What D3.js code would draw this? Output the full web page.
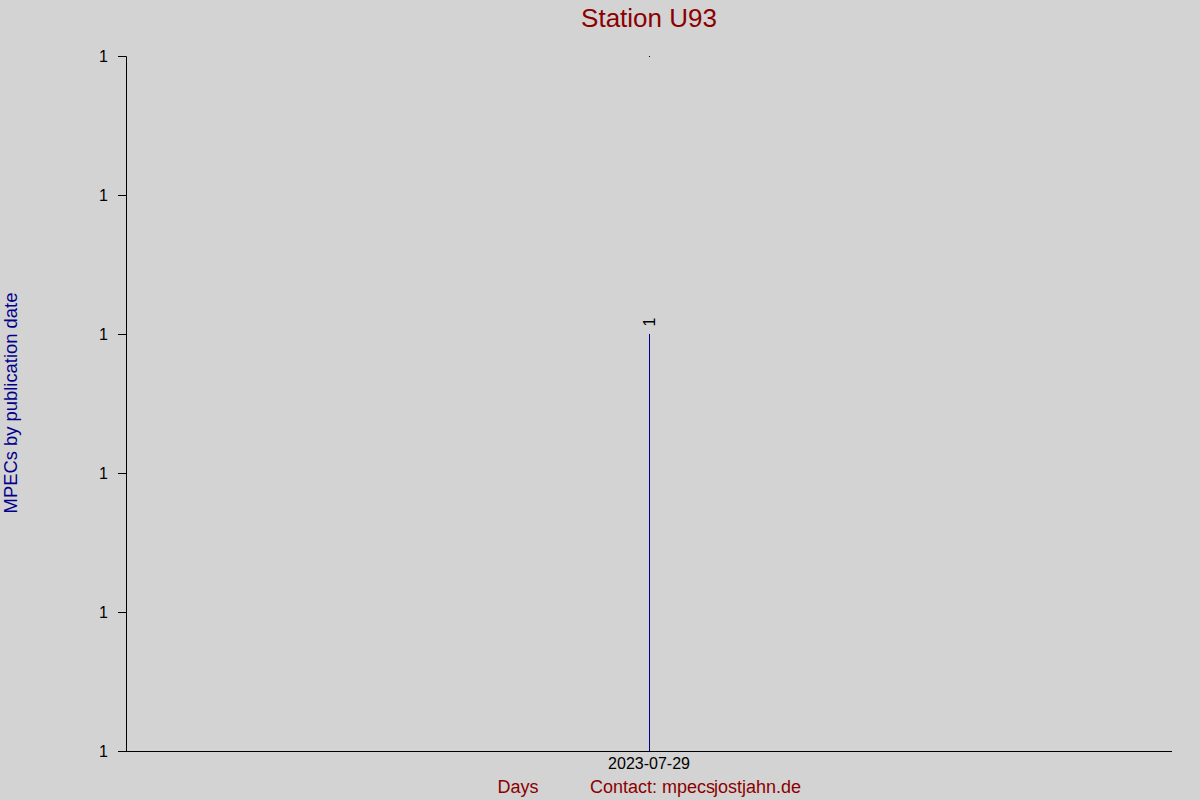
<!DOCTYPE html>
<html lang="en">
<head>
  <meta charset="utf-8">
  <title>Station U93</title>
  <script src="https://d3js.org/d3.v7.min.js"></script>
  <style>
    body { margin: 0; background: #d3d3d3; }
    text { font-family: "Liberation Sans", Arial, sans-serif; }
  </style>
</head>
<body>
  <div id="chart"></div>
  <script type="text/javascript">
    // data
    var days = ["2023-07-29"];
    var counts = [1];
    var yTickValues = [0, 1/3, 2/3, 1, 4/3, 5/3];
    var yTickLabels = ["1", "1", "1", "1", "1", "1"];

    var width = 1200, height = 800;
    var margin = { top: 56, right: 28, bottom: 49, left: 126 };

    var svg = d3.select("#chart")
      .append("svg")
      .attr("width", width)
      .attr("height", height);

    svg.append("rect")
      .attr("width", width)
      .attr("height", height)
      .attr("fill", "#d3d3d3");

    var x = d3.scaleBand()
      .domain(days)
      .range([margin.left, width - margin.right]);

    var y = d3.scaleLinear()
      .domain([0, 5/3])
      .range([height - margin.bottom, margin.top]);

    // bars (thin lines)
    svg.selectAll(".bar")
      .data(days)
      .enter().append("line")
      .attr("class", "bar")
      .attr("x1", function(d) { return Math.round(x(d) + x.bandwidth() / 2) + 0.5; })
      .attr("x2", function(d) { return Math.round(x(d) + x.bandwidth() / 2) + 0.5; })
      .attr("y1", function(d, i) { return y(counts[i]); })
      .attr("y2", y(0))
      .attr("stroke", "#00008b")
      .attr("stroke-width", 1);

    // value labels
    svg.selectAll(".val")
      .data(days)
      .enter().append("text")
      .attr("class", "val")
      .attr("transform", function(d, i) {
        return "translate(" + (x(d) + x.bandwidth() / 2 + 6) + "," + (y(counts[i]) - 12) + ") rotate(-90)";
      })
      .attr("text-anchor", "middle")
      .attr("font-size", "16px")
      .attr("fill", "#000")
      .text(function(d, i) { return counts[i]; });

    // small marker at top of plot
    svg.append("rect")
      .attr("x", Math.round(x(days[0]) + x.bandwidth() / 2))
      .attr("y", y(5/3))
      .attr("width", 1)
      .attr("height", 1)
      .attr("fill", "#000");

    // y axis
    var yAxis = d3.axisLeft(y)
      .tickValues(yTickValues)
      .tickFormat(function(d, i) { return yTickLabels[i]; })
      .tickSize(8)
      .tickPadding(10);

    var gy = svg.append("g")
      .attr("transform", "translate(" + margin.left + ",0)")
      .call(yAxis);
    gy.selectAll("path, line").attr("stroke", "#000");
    gy.selectAll("text").attr("font-size", "16px").attr("fill", "#000")
      .attr("font-family", "Liberation Sans, Arial, sans-serif");

    // x axis
    var xAxis = d3.axisBottom(x).tickSize(0).tickPadding(7);
    var gx = svg.append("g")
      .attr("transform", "translate(0," + (height - margin.bottom) + ")")
      .call(xAxis);
    gx.select(".domain").attr("d", "M" + (margin.left - 8) + ",0.5H" + (width - margin.right)).attr("stroke", "#000");
    gx.selectAll("text").attr("font-size", "16px").attr("fill", "#000")
      .attr("font-family", "Liberation Sans, Arial, sans-serif");

    // title
    svg.append("text")
      .attr("x", 649)
      .attr("y", 27)
      .attr("text-anchor", "middle")
      .attr("font-size", "26px")
      .attr("fill", "#8b0000")
      .text("Station U93");

    // y label
    svg.append("text")
      .attr("transform", "translate(17,403) rotate(-90)")
      .attr("text-anchor", "middle")
      .attr("font-size", "18.4px")
      .attr("fill", "#00008b")
      .text("MPECs by publication date");

    // footer
    svg.append("text")
      .attr("x", 518)
      .attr("y", 793)
      .attr("text-anchor", "middle")
      .attr("font-size", "18px")
      .attr("fill", "#8b0000")
      .text("Days");
    svg.append("text")
      .attr("x", 590)
      .attr("y", 793)
      .attr("font-size", "18px")
      .attr("fill", "#8b0000")
      .text("Contact: mpecs");
    svg.append("text")
      .attr("x", 714)
      .attr("y", 793)
      .attr("font-size", "18px")
      .attr("fill", "#8b0000")
      .text("jostjahn.de");
  </script>
</body>
</html>
